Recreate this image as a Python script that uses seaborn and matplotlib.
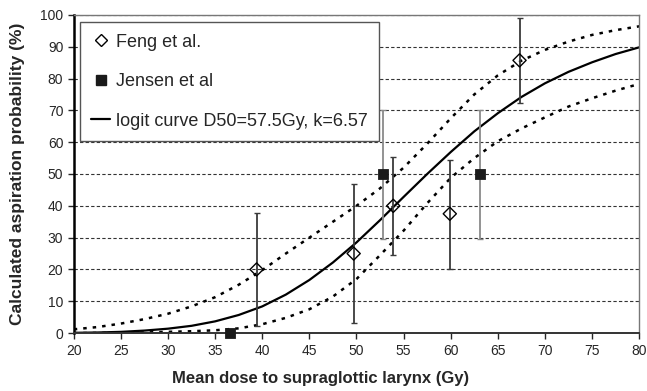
import numpy as np
import pandas as pd
import seaborn as sns
import matplotlib.pyplot as plt
from matplotlib.lines import Line2D

# Feng et al. (open diamonds) with error bars
feng_dose = [39.4, 49.7, 53.9, 59.9, 67.3]
feng_prob = [20.0, 25.0, 40.0, 37.5, 85.7]
feng_low = [2.2, 3.2, 24.5, 20.3, 72.4]
feng_high = [37.6, 46.8, 55.4, 54.4, 99.0]

# Jensen et al (filled squares)
jensen_dose = [36.6, 52.8, 63.1]
jensen_prob = [0.0, 50.0, 50.0]
jensen_low = [0.0, 29.6, 29.6]
jensen_high = [0.0, 70.2, 70.2]

# curves every 2.5 Gy
curve_dose = [20, 22.5, 25, 27.5, 30, 32.5, 35, 37.5, 40, 42.5, 45, 47.5, 50,
              52.5, 55, 57.5, 60, 62.5, 65, 67.5, 70, 72.5, 75, 77.5, 80]
logit_prob = [0.1, 0.2, 0.4, 0.8, 1.4, 2.3, 3.7, 5.7, 8.4, 12.1, 16.7, 22.2, 28.5,
              35.5, 42.8, 50.0, 56.9, 63.4, 69.1, 74.2, 78.5, 82.1, 85.1, 87.7, 89.8]
upper_prob = [1.2, 1.9, 3.0, 4.4, 6.1, 8.4, 11.3, 15.2, 19.8, 25.0, 30.0, 35.0, 40.0,
              45.5, 52.0, 59.5, 67.5, 75.0, 81.0, 85.6, 89.0, 91.6, 93.7, 95.2, 96.4]
lower_prob = [0.0, 0.05, 0.1, 0.2, 0.4, 0.6, 0.9, 1.5, 2.8, 4.8, 7.5, 11.5, 17.0,
              24.5, 32.2, 40.8, 48.8, 55.0, 60.3, 64.3, 67.8, 71.2, 73.8, 76.2, 78.3]

curves = pd.DataFrame({'dose': curve_dose, 'logit': logit_prob,
                       'upper': upper_prob, 'lower': lower_prob})
feng = pd.DataFrame({'dose': feng_dose, 'prob': feng_prob})
jensen = pd.DataFrame({'dose': jensen_dose, 'prob': jensen_prob})

sns.set_style('ticks')
plt.rcParams['font.family'] = ['Liberation Sans', 'DejaVu Sans']

fig, ax = plt.subplots(figsize=(6.47, 3.91), dpi=100)
fig.subplots_adjust(left=0.114, right=0.988, top=0.962, bottom=0.148)

ax.yaxis.grid(True, linestyle=(0, (3, 2)), color='#333333', lw=0.8)
ax.set_axisbelow(True)

dash = (0, (1.4, 2.4))
sns.lineplot(data=curves, x='dose', y='upper', ax=ax, color='black', lw=1.8,
             linestyle=dash, sort=False)
sns.lineplot(data=curves, x='dose', y='lower', ax=ax, color='black', lw=1.8,
             linestyle=dash, sort=False)
sns.lineplot(data=curves, x='dose', y='logit', ax=ax, color='black', lw=1.6,
             sort=False)

feng_err = [np.array(feng_prob) - np.array(feng_low),
            np.array(feng_high) - np.array(feng_prob)]
jensen_err = [np.array(jensen_prob) - np.array(jensen_low),
              np.array(jensen_high) - np.array(jensen_prob)]
ax.errorbar(feng_dose, feng_prob, yerr=feng_err, fmt='none', ecolor='#3a3a3a',
            elinewidth=1.3, capsize=2.5, capthick=1.0)
ax.errorbar(jensen_dose, jensen_prob, yerr=jensen_err, fmt='none', ecolor='#8a8a8a',
            elinewidth=1.3, capsize=2.5, capthick=1.0)

sns.scatterplot(data=feng, x='dose', y='prob', ax=ax, marker='D', s=45,
                facecolor='none', edgecolor='black', linewidth=1.0, zorder=5)
sns.scatterplot(data=jensen, x='dose', y='prob', ax=ax, marker='s', s=55,
                color='#1a1a1a', edgecolor='#1a1a1a', zorder=5, clip_on=False)

ax.set_xlim(20, 80)
ax.set_ylim(0, 100)
ax.set_xticks(range(20, 81, 5))
ax.set_yticks(range(0, 101, 10))
ax.tick_params(labelsize=10, length=4, width=1, direction='out')
ax.set_xlabel('Mean dose to supraglottic larynx (Gy)', fontsize=12,
              fontweight='bold')
ax.xaxis.set_label_coords(0.496, 0.052, transform=fig.transFigure)
ax.set_ylabel('Calculated aspiration probability (%)', fontsize=12.5,
              fontweight='bold', labelpad=11)

for side in ['top', 'right']:
    ax.spines[side].set_color('#777777')
    ax.spines[side].set_linewidth(1.0)
ax.spines['left'].set_color('black')
ax.spines['left'].set_linewidth(1.8)
ax.spines['bottom'].set_color('#333333')
ax.spines['bottom'].set_linewidth(1.4)

handles = [
    Line2D([], [], marker='D', ls='none', mfc='none', mec='black', ms=6.5, mew=1.0),
    Line2D([], [], marker='s', ls='none', mfc='#1a1a1a', mec='#1a1a1a', ms=7),
    Line2D([], [], color='black', lw=1.6),
]
labels = ['Feng et al.', 'Jensen et al', 'logit curve D50=57.5Gy, k=6.57']
leg = ax.legend(handles, labels, loc='upper left', bbox_to_anchor=(0.0106, 0.978),
                borderaxespad=0, fontsize=13, frameon=True, fancybox=False,
                edgecolor='#555555', framealpha=1, handlelength=1.0,
                handletextpad=0.35, labelspacing=1.25, borderpad=0.65)
leg.get_frame().set_linewidth(1.0)

fig.savefig('out.png', dpi=100)
plt.close()
